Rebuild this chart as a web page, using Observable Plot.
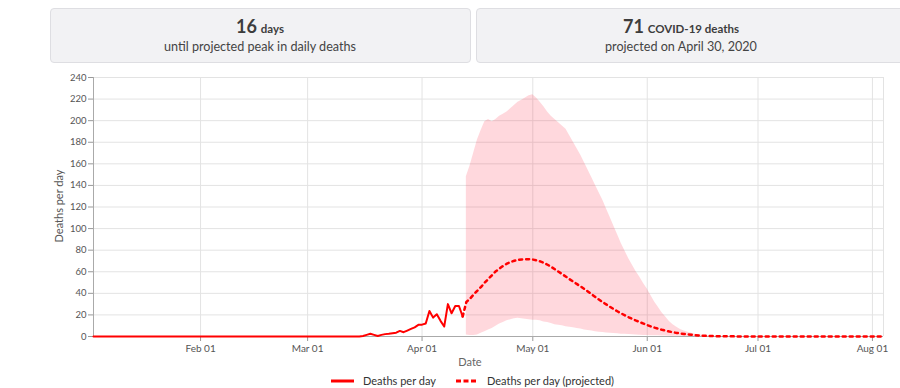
<!DOCTYPE html>
<html>
<head>
<meta charset="utf-8">
<script src="https://cdn.jsdelivr.net/npm/d3@7"></script>
<script src="https://cdn.jsdelivr.net/npm/@observablehq/plot@0.6"></script>
<style>
  html, body { margin: 0; padding: 0; background: #fff; }
  #wrap { position: relative; width: 900px; height: 388px; overflow: hidden; font-family: Lato, "Open Sans", sans-serif; }
  .box { position: absolute; top: 8px; height: 55px; background: #f2f2f4; border: 1px solid #dedee2; border-radius: 4px; box-sizing: border-box; }
  .big { position: absolute; top: 15px; transform: translateX(-50%); white-space: nowrap; color: #3d3d3d; font-weight: 700; }
  .big .n { font-size: 18px; }
  .big .u { font-size: 11.5px; }
  .sub { position: absolute; top: 39px; transform: translateX(-50%); white-space: nowrap; color: #444; font-size: 12.6px; }
  #chart { position: absolute; left: 0; top: 70px; }
  .leg { position: absolute; top: 374px; font-size: 11px; color: #333; white-space: nowrap; }
  .ylab { position: absolute; left: 58px; top: 206px; transform: translate(-50%, -50%) rotate(-90deg); font-size: 11px; color: #555; white-space: nowrap; }
  .xlab { position: absolute; left: 470px; top: 355px; transform: translateX(-50%); font-size: 11px; color: #666; white-space: nowrap; }
</style>
</head>
<body>
<div id="wrap">
  <div class="box" style="left:50px; width:421px;"></div>
  <div class="box" style="left:476px; width:440px;"></div>
  <div class="big" style="left:260px;"><span class="n">16</span> <span class="u">days</span></div>
  <div class="sub" style="left:260px;">until projected peak in daily deaths</div>
  <div class="big" style="left:681px;"><span class="n">71</span> <span class="u">COVID-19 deaths</span></div>
  <div class="sub" style="left:681px;">projected on April 30, 2020</div>
  <div id="chart"></div>
  <div class="ylab">Deaths per day</div>
  <div class="xlab">Date</div>
  <svg style="position:absolute; left:0; top:374px;" width="900" height="14">
    <line x1="331" x2="354" y1="7" y2="7" stroke="#ff0000" stroke-width="3"></line>
    <line x1="456" x2="476" y1="7" y2="7" stroke="#ff0000" stroke-width="3" stroke-dasharray="5,2.5"></line>
  </svg>
  <div class="leg" style="left:363px;">Deaths per day</div>
  <div class="leg" style="left:487px;">Deaths per day (projected)</div>
</div>
<script>
// ---- Data ----
const xDomain = ["2020-01-03", "2020-08-04"];
const monthTicks = ["2020-02-01", "2020-03-01", "2020-04-01", "2020-05-01", "2020-06-01", "2020-07-01", "2020-08-01"];
const yTicks = [0, 20, 40, 60, 80, 100, 120, 140, 160, 180, 200, 220, 240];

// Observed deaths per day
const obsDates = ["2020-01-03", "2020-03-15", "2020-03-16", "2020-03-17", "2020-03-18", "2020-03-19", "2020-03-20",
  "2020-03-21", "2020-03-22", "2020-03-23", "2020-03-24", "2020-03-25", "2020-03-26", "2020-03-27", "2020-03-28",
  "2020-03-29", "2020-03-30", "2020-03-31", "2020-04-01", "2020-04-02", "2020-04-03", "2020-04-04", "2020-04-05",
  "2020-04-06", "2020-04-07", "2020-04-08", "2020-04-09", "2020-04-10", "2020-04-11", "2020-04-12"];
const obsValues = [0, 0, 0.5, 1.5, 2.5, 1.5, 0.5,
  1.5, 2.2, 2.5, 3, 3.5, 5.2, 4, 5.5,
  7, 8.5, 10.8, 11, 12, 23.7, 17.5, 20.6,
  14.5, 9.2, 30, 21.5, 28.3, 28.3, 18.5];

// Projected deaths per day
const projDates = ["2020-04-12", "2020-04-13", "2020-04-14", "2020-04-15", "2020-04-16", "2020-04-17", "2020-04-18",
  "2020-04-19", "2020-04-20", "2020-04-21", "2020-04-22", "2020-04-23", "2020-04-24", "2020-04-25", "2020-04-26",
  "2020-04-27", "2020-04-28", "2020-04-29", "2020-04-30", "2020-05-01", "2020-05-02", "2020-05-03", "2020-05-04",
  "2020-05-05", "2020-05-06", "2020-05-07", "2020-05-08", "2020-05-09", "2020-05-10", "2020-05-11", "2020-05-12",
  "2020-05-13", "2020-05-14", "2020-05-15", "2020-05-16", "2020-05-17", "2020-05-18", "2020-05-19", "2020-05-20",
  "2020-05-21", "2020-05-22", "2020-05-23", "2020-05-24", "2020-05-25", "2020-05-26", "2020-05-27", "2020-05-28",
  "2020-05-29", "2020-05-30", "2020-05-31", "2020-06-01", "2020-06-02", "2020-06-03", "2020-06-04", "2020-06-05",
  "2020-06-06", "2020-06-07", "2020-06-08", "2020-06-09", "2020-06-10", "2020-06-11", "2020-06-12", "2020-06-13",
  "2020-06-14", "2020-06-15", "2020-06-16", "2020-06-17", "2020-06-18", "2020-06-19", "2020-06-20", "2020-06-22",
  "2020-06-25", "2020-06-28", "2020-08-04"];
const projValues = [18.5, 32, 35, 39, 42.5, 46, 50,
  53.5, 57, 60.5, 63, 65.5, 67.5, 69, 70.2,
  71, 71.4, 71.6, 71.6, 71.3, 70.6, 69.6, 68.3,
  66.5, 64.5, 62.3, 60, 57.7, 55.4, 53, 50.8,
  48.5, 46.3, 44, 41.5, 39, 36.5, 34, 31.7,
  29.5, 27.3, 25.2, 23.2, 21.3, 19.5, 17.8, 16.2,
  14.7, 13.3, 12, 10.5, 9.3, 8.2, 7.2, 6.2,
  5.4, 4.6, 3.9, 3.3, 2.8, 2.3, 1.9, 1.6,
  1.3, 1.0, 0.8, 0.6, 0.5, 0.4, 0.3, 0.2,
  0.1, 0, 0];

// Uncertainty band (lower / upper)
const bandDates = ["2020-04-13", "2020-04-14", "2020-04-15", "2020-04-16", "2020-04-17", "2020-04-18", "2020-04-19",
  "2020-04-20", "2020-04-21", "2020-04-22", "2020-04-23", "2020-04-24", "2020-04-25", "2020-04-26", "2020-04-27",
  "2020-04-28", "2020-04-29", "2020-04-30", "2020-05-01", "2020-05-02", "2020-05-03", "2020-05-04", "2020-05-05",
  "2020-05-06", "2020-05-07", "2020-05-08", "2020-05-09", "2020-05-10", "2020-05-11", "2020-05-12", "2020-05-13",
  "2020-05-14", "2020-05-15", "2020-05-16", "2020-05-17", "2020-05-18", "2020-05-19", "2020-05-20", "2020-05-21",
  "2020-05-22", "2020-05-23", "2020-05-24", "2020-05-25", "2020-05-26", "2020-05-27", "2020-05-28", "2020-05-29",
  "2020-05-30", "2020-05-31", "2020-06-01", "2020-06-02", "2020-06-03", "2020-06-04", "2020-06-05", "2020-06-06",
  "2020-06-07", "2020-06-08", "2020-06-09", "2020-06-10", "2020-06-11", "2020-06-12", "2020-06-13", "2020-06-14",
  "2020-06-15", "2020-06-16", "2020-06-17", "2020-06-18", "2020-06-19", "2020-06-20"];
const bandLower = [1.5, 1, 1, 1.5, 3, 4.5, 6,
  7.5, 9.5, 11.5, 13, 14.5, 15.5, 16.5, 17,
  16.5, 16, 15.5, 15, 15, 14.5, 13.5, 13,
  12, 11, 10.5, 10, 9, 8.5, 8, 7.5,
  7, 6, 5.5, 5, 4.5, 4, 3.7, 3.3,
  3, 2.7, 2.5, 2.2, 2, 1.8, 1.6, 1.4,
  1.2, 1.0, 0.9, 0.8, 0.7, 0.6, 0.5, 0.4,
  0.3, 0.3, 0.2, 0.2, 0.1, 0.1, 0, 0,
  0, 0, 0, 0, 0, 0];
const bandUpper = [148, 158, 170, 182, 191, 199, 201,
  199, 201, 204, 206, 208, 211, 214, 217,
  219, 221, 223, 224, 221, 217, 213, 208,
  204, 201, 198, 195, 192, 186, 180, 174,
  168, 161, 154, 147, 140, 133, 126, 118,
  110, 102, 94, 86, 79, 72, 66, 60,
  55, 49, 44, 38, 32, 27, 22, 18,
  14, 11, 8.5, 6.5, 5, 4, 3, 2.2,
  1.6, 1.1, 0.7, 0.4, 0.2, 0];

// ---- Build ----
const parse = d3.utcParse("%Y-%m-%d");
const observed = obsDates.map((d, i) => ({date: parse(d), value: obsValues[i]}));
const projected = projDates.map((d, i) => ({date: parse(d), value: projValues[i]}));
const band = bandDates.map((d, i) => ({date: parse(d), lo: bandLower[i], hi: bandUpper[i]}));
const xd = xDomain.map(parse);
const mt = monthTicks.map(parse);

const chart = Plot.plot({
  width: 900,
  height: 300,
  marginTop: 7,
  marginBottom: 34,
  marginLeft: 93,
  marginRight: 17,
  style: {fontFamily: "Lato, 'Open Sans', sans-serif", fontSize: "10px", color: "#555", background: "transparent"},
  x: {type: "utc", domain: xd},
  y: {domain: [0, 240]},
  marks: [
    Plot.gridY(yTicks, {stroke: "#e3e3e3", strokeOpacity: 1}),
    Plot.gridX(mt, {stroke: "#e3e3e3", strokeOpacity: 1}),
    Plot.ruleX([xd[1]], {stroke: "#e3e3e3"}),
    Plot.areaY(band, {x: "date", y1: "lo", y2: "hi", fill: "#ff1a38", fillOpacity: 0.17}),
    Plot.axisY({ticks: yTicks, tickSize: 5, tickPadding: 2, stroke: "#999", fontSize: 9.5, label: null}),
    Plot.ruleX([xd[0]], {stroke: "#aaa"}),
    Plot.axisX({ticks: mt, tickFormat: d3.utcFormat("%b %d"), tickSize: 5, tickPadding: 3, stroke: "#999", label: null}),
    Plot.ruleY([0], {stroke: "#aaa"}),
    Plot.line(projected, {x: "date", y: "value", stroke: "#ff0000", strokeWidth: 2.5, strokeDasharray: "3,4"}),
    Plot.line(observed, {x: "date", y: "value", stroke: "#ff0000", strokeWidth: 2, strokeLinejoin: "round"})
  ]
});
document.getElementById("chart").appendChild(chart);
</script>
</body>
</html>
